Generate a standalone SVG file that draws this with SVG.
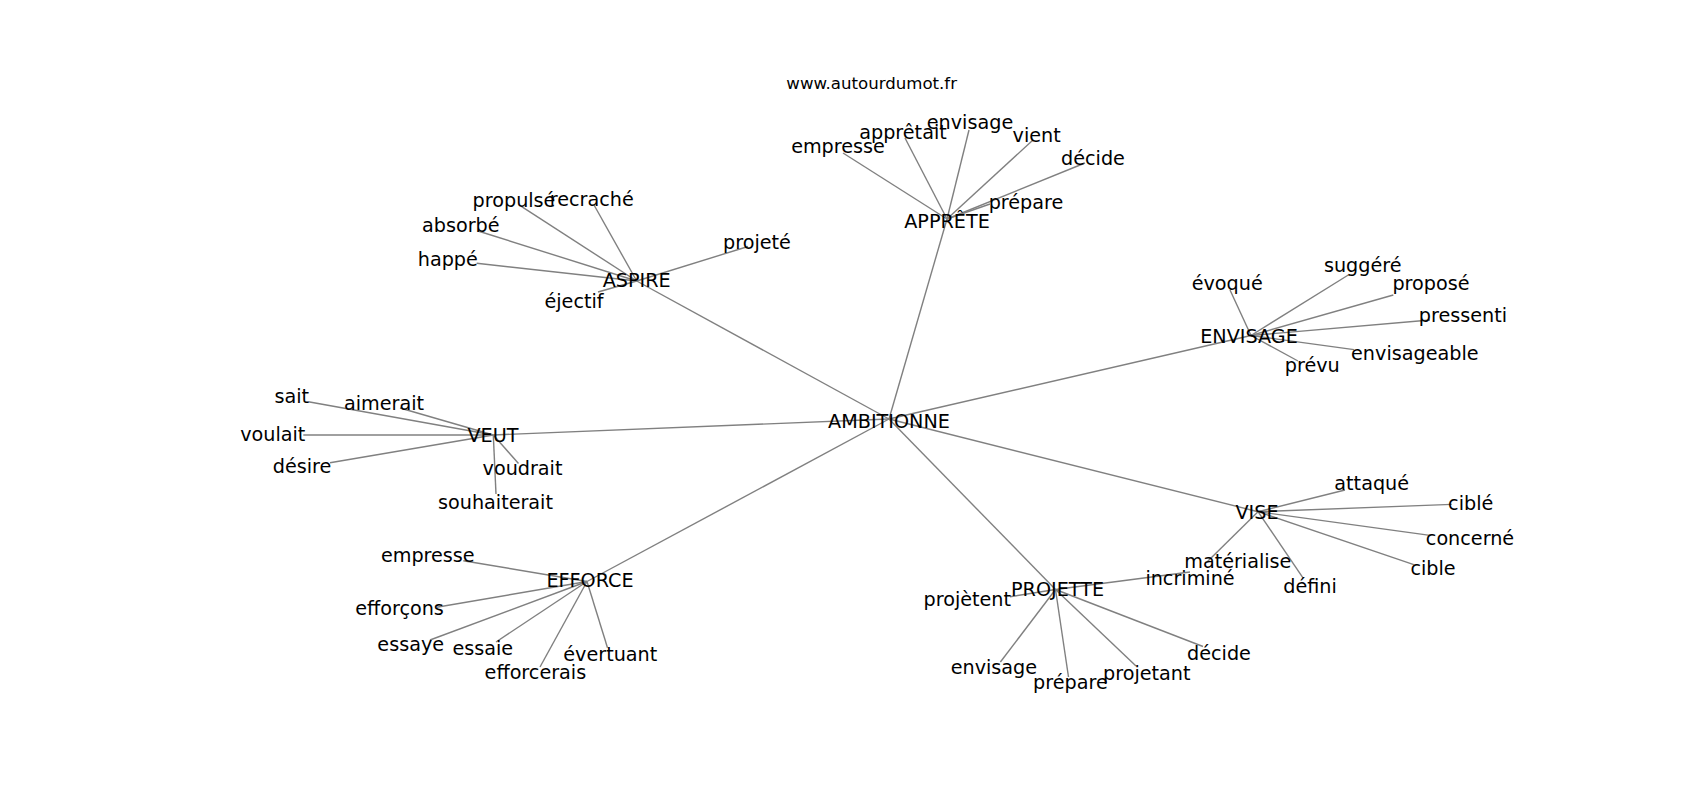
<svg xmlns="http://www.w3.org/2000/svg" width="1700" height="800" viewBox="0 0 1700 800">
<style>
.e{stroke:#808080;stroke-width:1.4;fill:none}
.t{font-family:"DejaVu Sans","Liberation Sans",sans-serif;font-size:19.2px;fill:#000;text-anchor:middle}
.title{font-family:"DejaVu Sans","Liberation Sans",sans-serif;font-size:16.6px;fill:#000;text-anchor:middle}
</style>
<rect width="1700" height="800" fill="#fff"/>
<text class="title" x="871.7" y="88.5">www.autourdumot.fr</text>
<g id="edges">
<line class="e" x1="889" y1="419" x2="947" y2="219"/>
<line class="e" x1="889" y1="419" x2="636.7" y2="281"/>
<line class="e" x1="889" y1="419" x2="1251" y2="335.5"/>
<line class="e" x1="889" y1="419" x2="493.3" y2="435"/>
<line class="e" x1="889" y1="419" x2="1258" y2="511.7"/>
<line class="e" x1="889" y1="419" x2="1055.5" y2="589.5"/>
<line class="e" x1="889" y1="419" x2="587" y2="581.5"/>
<line class="e" x1="947" y1="219" x2="843" y2="153"/>
<line class="e" x1="947" y1="219" x2="905" y2="138"/>
<line class="e" x1="947" y1="219" x2="969" y2="130"/>
<line class="e" x1="947" y1="219" x2="1033" y2="140"/>
<line class="e" x1="947" y1="219" x2="1085" y2="163"/>
<line class="e" x1="947" y1="219" x2="990" y2="204"/>
<line class="e" x1="636.7" y1="281" x2="521.7" y2="206.7"/>
<line class="e" x1="636.7" y1="281" x2="594" y2="205"/>
<line class="e" x1="636.7" y1="281" x2="478" y2="231"/>
<line class="e" x1="636.7" y1="281" x2="476.7" y2="263.3"/>
<line class="e" x1="636.7" y1="281" x2="748" y2="246.5"/>
<line class="e" x1="636.7" y1="281" x2="598" y2="292"/>
<line class="e" x1="493.3" y1="435" x2="308.3" y2="401.7"/>
<line class="e" x1="493.3" y1="435" x2="400" y2="408"/>
<line class="e" x1="493.3" y1="435" x2="303.3" y2="435"/>
<line class="e" x1="493.3" y1="435" x2="330" y2="462.7"/>
<line class="e" x1="493.3" y1="435" x2="518.5" y2="463.5"/>
<line class="e" x1="493.3" y1="435" x2="496" y2="494"/>
<line class="e" x1="587" y1="581.5" x2="463.3" y2="560.7"/>
<line class="e" x1="587" y1="581.5" x2="436.7" y2="607.3"/>
<line class="e" x1="587" y1="581.5" x2="430" y2="640"/>
<line class="e" x1="587" y1="581.5" x2="496" y2="642"/>
<line class="e" x1="587" y1="581.5" x2="540" y2="667"/>
<line class="e" x1="587" y1="581.5" x2="607.5" y2="647.7"/>
<line class="e" x1="1055.5" y1="589.5" x2="1190" y2="572"/>
<line class="e" x1="1055.5" y1="589.5" x2="1010" y2="596.7"/>
<line class="e" x1="1055.5" y1="589.5" x2="1000.4" y2="662"/>
<line class="e" x1="1055.5" y1="589.5" x2="1068.5" y2="677"/>
<line class="e" x1="1055.5" y1="589.5" x2="1136" y2="666"/>
<line class="e" x1="1055.5" y1="589.5" x2="1203" y2="646.5"/>
<line class="e" x1="1258" y1="511.7" x2="1345" y2="490"/>
<line class="e" x1="1258" y1="511.7" x2="1451.7" y2="504.4"/>
<line class="e" x1="1258" y1="511.7" x2="1430" y2="535.4"/>
<line class="e" x1="1258" y1="511.7" x2="1413.8" y2="564.6"/>
<line class="e" x1="1258" y1="511.7" x2="1303.3" y2="578.3"/>
<line class="e" x1="1258" y1="511.7" x2="1207" y2="562"/>
<line class="e" x1="1251" y1="335.5" x2="1230" y2="290"/>
<line class="e" x1="1251" y1="335.5" x2="1348.3" y2="275"/>
<line class="e" x1="1251" y1="335.5" x2="1393.3" y2="295"/>
<line class="e" x1="1251" y1="335.5" x2="1430" y2="320"/>
<line class="e" x1="1251" y1="335.5" x2="1354" y2="349.6"/>
<line class="e" x1="1251" y1="335.5" x2="1298" y2="361"/>
</g>
<g id="n-ambitionne"><text class="t" x="889" y="427.5">AMBITIONNE</text></g>
<g id="n-apprete"><text class="t" x="947" y="228.3">APPRÊTE</text></g>
<g id="n-aspire"><text class="t" x="636.7" y="287.3">ASPIRE</text></g>
<g id="n-envisage-hub"><text class="t" x="1249" y="343.3">ENVISAGE</text></g>
<g id="n-veut"><text class="t" x="493" y="441.7">VEUT</text></g>
<g id="n-vise"><text class="t" x="1257" y="519">VISE</text></g>
<g id="n-projette"><text class="t" x="1057.5" y="595.7">PROJETTE</text></g>
<g id="n-efforce"><text class="t" x="590" y="586.7">EFFORCE</text></g>
<g id="n-empresse-1"><text class="t" x="838" y="153.3">empresse</text></g>
<g id="n-appretait"><text class="t" x="903" y="139">apprêtait</text></g>
<g id="n-envisage-1"><text class="t" x="970" y="128.5">envisage</text></g>
<g id="n-vient"><text class="t" x="1036.7" y="141.7">vient</text></g>
<g id="n-decide-1"><text class="t" x="1093" y="164.5">décide</text></g>
<g id="n-prepare-1"><text class="t" x="1026" y="209">prépare</text></g>
<g id="n-propulse"><text class="t" x="514" y="207.3">propulsé</text></g>
<g id="n-recrache"><text class="t" x="591.7" y="205.7">recraché</text></g>
<g id="n-absorbe"><text class="t" x="460.8" y="231.7">absorbé</text></g>
<g id="n-happe"><text class="t" x="447.8" y="265.7">happé</text></g>
<g id="n-projete"><text class="t" x="757" y="249">projeté</text></g>
<g id="n-ejectif"><text class="t" x="574" y="308">éjectif</text></g>
<g id="n-sait"><text class="t" x="291.7" y="403.3">sait</text></g>
<g id="n-aimerait"><text class="t" x="384" y="410">aimerait</text></g>
<g id="n-voulait"><text class="t" x="272.8" y="440.7">voulait</text></g>
<g id="n-desire"><text class="t" x="302" y="473.3">désire</text></g>
<g id="n-voudrait"><text class="t" x="522.5" y="475">voudrait</text></g>
<g id="n-souhaiterait"><text class="t" x="495.5" y="509">souhaiterait</text></g>
<g id="n-empresse-2"><text class="t" x="427.8" y="561.7">empresse</text></g>
<g id="n-efforcons"><text class="t" x="399.5" y="615">efforçons</text></g>
<g id="n-essaye"><text class="t" x="410.7" y="651">essaye</text></g>
<g id="n-essaie"><text class="t" x="482.8" y="655.4">essaie</text></g>
<g id="n-efforcerais"><text class="t" x="535.4" y="679">efforcerais</text></g>
<g id="n-evertuant"><text class="t" x="610.3" y="660.7">évertuant</text></g>
<g id="n-incrimine"><text class="t" x="1190" y="585">incriminé</text></g>
<g id="n-projetent"><text class="t" x="967.3" y="606">projètent</text></g>
<g id="n-envisage-2"><text class="t" x="993.9" y="673.8">envisage</text></g>
<g id="n-prepare-2"><text class="t" x="1070.4" y="689">prépare</text></g>
<g id="n-projetant"><text class="t" x="1146.8" y="680.3">projetant</text></g>
<g id="n-decide-2"><text class="t" x="1219" y="659.7">décide</text></g>
<g id="n-attaque"><text class="t" x="1371.7" y="490">attaqué</text></g>
<g id="n-cible-1"><text class="t" x="1470.7" y="510">ciblé</text></g>
<g id="n-concerne"><text class="t" x="1470" y="544.5">concerné</text></g>
<g id="n-cible-2"><text class="t" x="1433" y="575">cible</text></g>
<g id="n-defini"><text class="t" x="1310" y="593.3">défini</text></g>
<g id="n-materialise"><text class="t" x="1237.8" y="568.3">matérialise</text></g>
<g id="n-evoque"><text class="t" x="1227.2" y="290">évoqué</text></g>
<g id="n-suggere"><text class="t" x="1362.7" y="271.5">suggéré</text></g>
<g id="n-propose"><text class="t" x="1431" y="289.7">proposé</text></g>
<g id="n-pressenti"><text class="t" x="1463" y="322.2">pressenti</text></g>
<g id="n-envisageable"><text class="t" x="1414.8" y="360.2">envisageable</text></g>
<g id="n-prevu"><text class="t" x="1312.3" y="372">prévu</text></g>
</svg>
